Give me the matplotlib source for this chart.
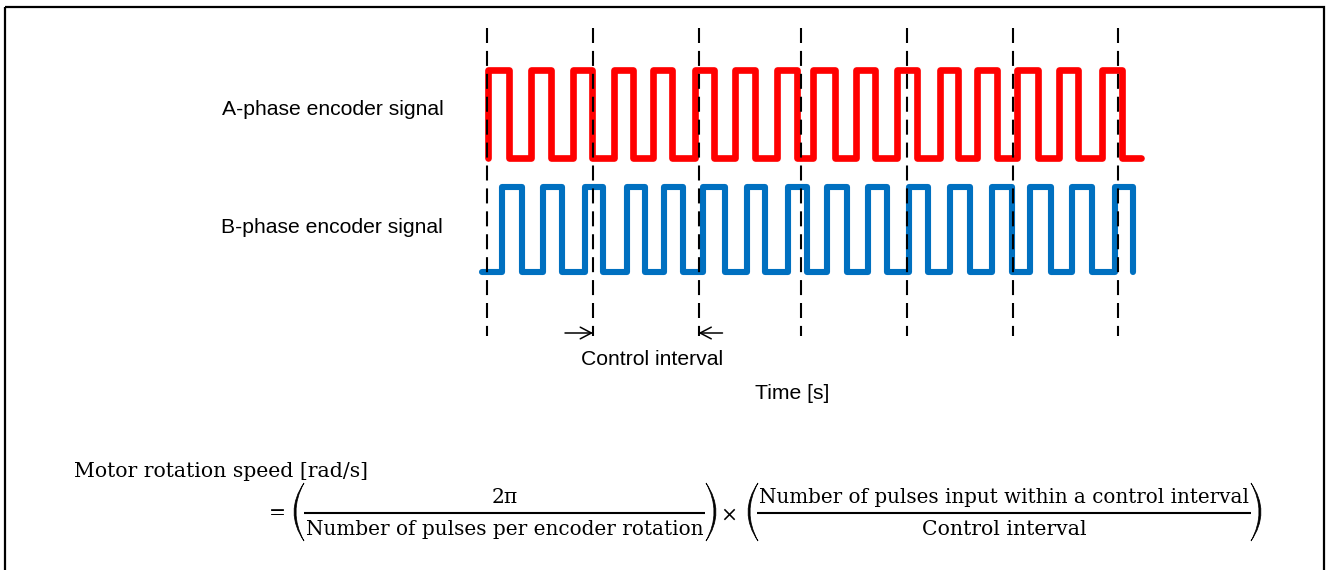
import matplotlib
matplotlib.use("Agg")
import matplotlib.pyplot as plt
from matplotlib.path import Path
from matplotlib.patches import PathPatch, Rectangle

# ---------------- data (time axis in image-pixel units) ----------------
a_start, a_end = 488, 1141
a_rise = [488, 531, 573, 614, 653, 695, 735, 777, 813, 856, 897, 940, 977, 1017, 1059, 1102]
a_fall = [509, 551, 592, 633, 672, 714, 755, 797, 835, 875, 917, 958, 997, 1038, 1078, 1122]

b_start, b_end = 482, 1133
b_rise = [502, 543, 585, 627, 664, 703, 747, 788, 827, 868, 909, 950, 992, 1030, 1072, 1115]
b_fall = [522, 562, 603, 645, 683, 725, 765, 807, 847, 887, 928, 970, 1012, 1051, 1092, 1133]

interval_marks = [487, 593, 698.5, 801, 906.5, 1012.5, 1118]

label_a = "A-phase encoder signal"
label_b = "B-phase encoder signal"
label_interval = "Control interval"
label_time = "Time [s]"
formula_lhs = "Motor rotation speed [rad/s]"
num1 = "2π"
den1 = "Number of pulses per encoder rotation"
num2 = "Number of pulses input within a control interval"
den2 = "Control interval"

# ---------------- figure ----------------
W, H = 1328, 570
fig = plt.figure(figsize=(W / 100, H / 100), dpi=100)
ax = fig.add_axes([0, 0, 1, 1])
ax.set_xlim(0, W)
ax.set_ylim(H, 0)
ax.axis("off")
renderer = fig.canvas.get_renderer()

RED = "#FF0000"
BLUE = "#0070C0"


def square_wave(start, rises, falls, end):
    xs, ys = [start], [0]
    for r, f in zip(rises, falls):
        xs += [r, r, f, f]
        ys += [0, 1, 1, 0]
    if end > xs[-1]:
        xs.append(end)
        ys.append(0)
    return xs, ys


def place(levels, low, high):
    return [low - v * (low - high) for v in levels]


xa, la = square_wave(a_start, a_rise, a_fall, a_end)
xb, lb = square_wave(b_start, b_rise, b_fall, b_end)
ax.plot(xa, place(la, 158.3, 70.3), color=RED, lw=4.8,
        solid_joinstyle="round", solid_capstyle="round", zorder=2)
ax.plot(xb, place(lb, 272, 187), color=BLUE, lw=4.4,
        solid_joinstyle="round", solid_capstyle="round", zorder=2)

# dashed interval markers
for xm in interval_marks:
    ax.plot([xm, xm], [28, 336], color="black", lw=1.5,
            dashes=(7.2, 3.8), zorder=3)

# control interval arrows
arrow_kw = dict(arrowstyle="->,head_length=0.8,head_width=0.42",
                lw=1.1, color="black", shrinkA=0, shrinkB=0, mutation_scale=10)
ax.annotate("", xy=(interval_marks[1], 333), xytext=(interval_marks[1] - 28, 333),
            arrowprops=arrow_kw)
ax.annotate("", xy=(interval_marks[2], 333), xytext=(interval_marks[2] + 24, 333),
            arrowprops=arrow_kw)


def fit(t, width):
    bb = t.get_window_extent(renderer)
    t.set_fontsize(t.get_fontsize() * width / bb.width)
    return t.get_fontsize()


sans = "Liberation Sans"
ta = ax.text(222, 115, label_a, family=sans, fontsize=15, ha="left", va="baseline")
fs_sans = fit(ta, 223)
ax.text(221, 233, label_b, family=sans, fontsize=fs_sans, ha="left", va="baseline")
ax.text(652.5, 365, label_interval, family=sans, fontsize=fs_sans, ha="center", va="baseline")
ax.text(792.5, 399, label_time, family=sans, fontsize=fs_sans, ha="center", va="baseline")

# ---------------- formula ----------------
serif = "DejaVu Serif"
tl = ax.text(74, 477, formula_lhs, family=serif, fontsize=14, ha="left", va="baseline")
fs = fit(tl, 295)

bar_y = 512.7
num_base, den_base = 503, 535
ax.text(277, 519, "=", family=serif, fontsize=fs, ha="center", va="baseline")
ax.text(504.5, num_base, num1, family=serif, fontsize=fs, ha="center", va="baseline")
t_d1 = ax.text(504.5, den_base, den1, family=serif, fontsize=fs, ha="center", va="baseline")
fit(t_d1, 398)
ax.plot([304, 705], [bar_y, bar_y], color="black", lw=1.5, solid_capstyle="butt")
ax.text(729, 521, "×", family=serif, fontsize=fs, ha="center", va="baseline")
t_n2 = ax.text(1004, num_base, num2, family=serif, fontsize=fs, ha="center", va="baseline")
fit(t_n2, 490)
ax.text(1004, den_base, den2, family=serif, fontsize=fs, ha="center", va="baseline")
ax.plot([757, 1251], [bar_y, bar_y], color="black", lw=1.5, solid_capstyle="butt")


def paren(x_tip, x_bulge, y0, y1, t):
    ym = (y0 + y1) / 2
    c_out = 2 * x_bulge - x_tip
    sign = 1 if x_bulge < x_tip else -1
    c_in = 2 * (x_bulge + sign * t) - x_tip
    verts = [(x_tip, y0), (c_out, ym), (x_tip, y1),
             (x_tip, y1), (c_in, ym), (x_tip, y0), (x_tip, y0)]
    codes = [Path.MOVETO, Path.CURVE3, Path.CURVE3,
             Path.LINETO, Path.CURVE3, Path.CURVE3, Path.CLOSEPOLY]
    ax.add_patch(PathPatch(Path(verts, codes), facecolor="black",
                           edgecolor="black", lw=0.5))


py0, py1 = 483, 541
paren(304, 294, py0, py1, 2.0)
paren(706, 716, py0, py1, 2.0)
paren(758, 748, py0, py1, 2.0)
paren(1251, 1261, py0, py1, 2.0)

# outer frame
ax.add_patch(Rectangle((5, 7), 1319, 600, fill=False, edgecolor="black", lw=1.6,
                       clip_on=False))

fig.savefig("out.png", dpi=100)
